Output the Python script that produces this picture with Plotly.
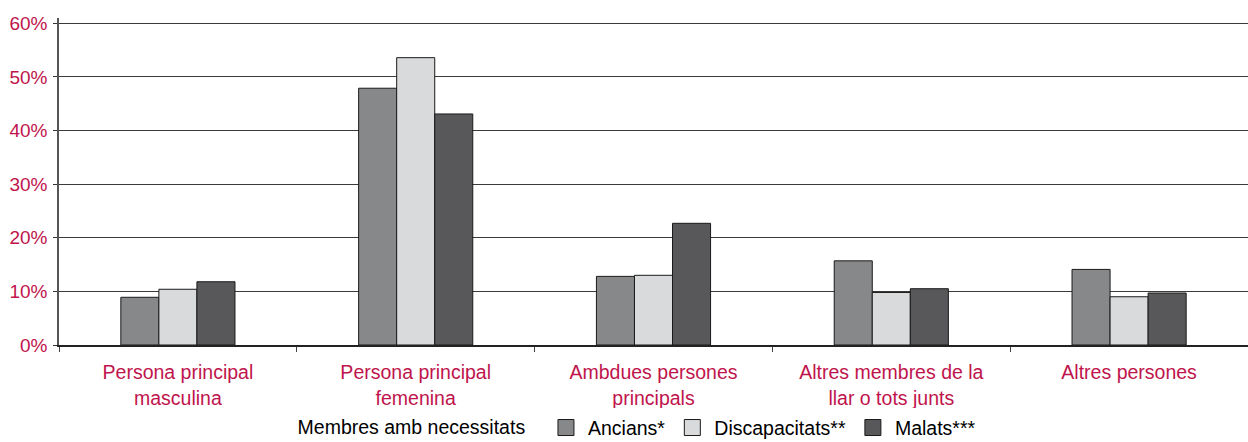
import plotly.graph_objects as go

categories = [
    "Persona principal<br>masculina",
    "Persona principal<br>femenina",
    "Ambdues persones<br>principals",
    "Altres membres de la<br>llar o tots junts",
    "Altres persones",
]
ancians = [8.9, 47.9, 12.8, 15.7, 14.1]
discapacitats = [10.4, 53.6, 13.0, 9.8, 9.0]
malats = [11.8, 43.1, 22.7, 10.5, 9.7]

series = [
    ("Ancians*", ancians, "#87888a"),
    ("Discapacitats**", discapacitats, "#d9dadc"),
    ("Malats***", malats, "#58585a"),
]

RED = "#c0144c"
FONT = "Liberation Sans, Arial, sans-serif"

fig = go.Figure()
for name, vals, col in series:
    fig.add_trace(go.Bar(
        x=categories, y=vals, name=name, showlegend=False,
        marker=dict(color=col, line=dict(color="#1a1a1a", width=1)),
    ))
# legend-only entries with larger square swatches
for name, vals, col in series:
    fig.add_trace(go.Scatter(
        x=[None], y=[None], mode="markers", name=name,
        marker=dict(symbol="square", size=21, color=col,
                    line=dict(color="#1a1a1a", width=1)),
    ))

fig.update_layout(
    width=1248, height=442,
    paper_bgcolor="white", plot_bgcolor="white",
    font=dict(family=FONT, size=19, color="black"),
    barmode="group", bargap=0.52, bargroupgap=0,
    margin=dict(l=59, r=0, t=18, b=97),
    showlegend=True,
    legend=dict(
        orientation="h", x=0.487, xanchor="center",
        yref="container", y=0.032, yanchor="middle",
        title=dict(text="Membres amb necessitats  ", side="left",
                   font=dict(size=19.5, color="black")),
        font=dict(size=19.5, color="black"),
        itemwidth=34,
    ),
)
fig.update_xaxes(
    automargin=False,
    showline=True, linecolor="#222", linewidth=1.5,
    ticks="outside", tickson="boundaries", ticklen=5, tickcolor="#444",
    tickfont=dict(color=RED, size=19.5), ticklabelstandoff=9,
)
fig.update_yaxes(
    automargin=False,
    range=[0, 61], tickvals=[0, 10, 20, 30, 40, 50, 60],
    ticktext=["0%", "10%", "20%", "30%", "40%", "50%", "60%"],
    showgrid=True, gridcolor="#3a3a3a", gridwidth=1,
    showline=True, linecolor="#555", linewidth=1.5,
    ticks="outside", ticklen=4, tickcolor="#333",
    tickfont=dict(color=RED, size=19), zeroline=False, ticklabelstandoff=2,
)

fig.write_html(
    "out.html",
    config={"displayModeBar": False},
    post_script="document.body.style.margin='0';document.body.style.overflow='hidden';",
)
